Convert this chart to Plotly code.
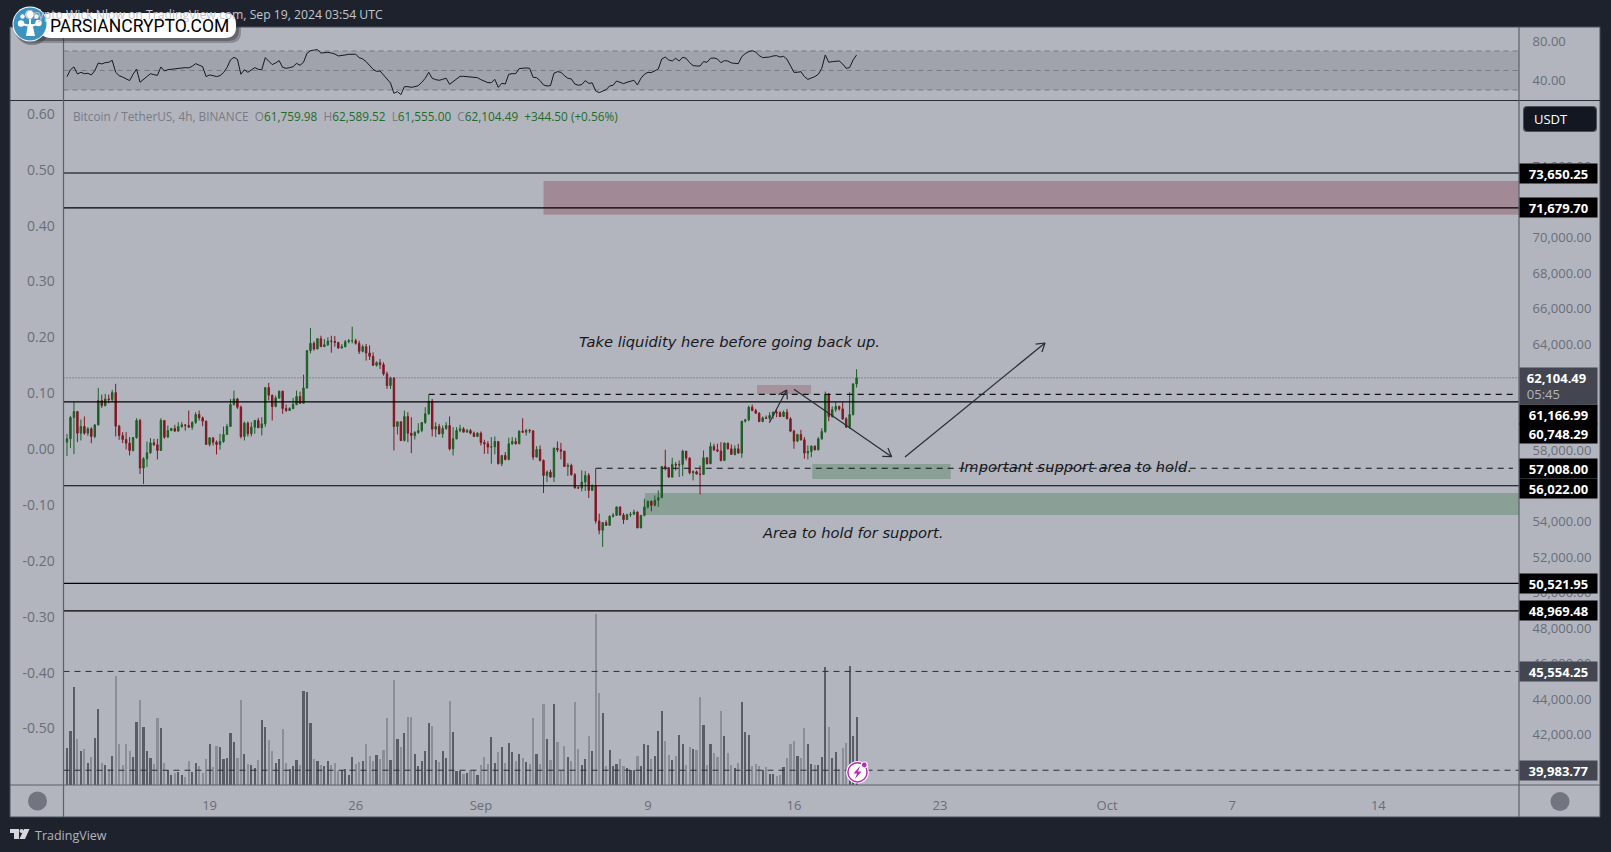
import numpy as np
import pandas as pd
import plotly.graph_objects as go

W, H = 1611, 852

# ---------------- data ----------------
first_open = 58479
closes = [58666,59866,60204,58985,59360,58985,59229,58798,59454,60823,
60541,60916,60879,61273,59379,58854,58629,58423,58010,58741,
59698,57016,57541,57879,58441,58329,58010,59698,58760,59135,
59248,59098,59360,59454,59416,59323,59585,60035,59848,59660,
58348,58723,58479,58348,58516,58910,59360,60598,60916,60448,
58798,59548,58948,59323,59698,59285,59510,61554,61123,60485,
60973,61348,60373,60260,60373,60598,61048,60673,61535,63635,
64048,63729,64310,63860,63973,64179,64160,64104,63785,63860,
64141,64198,64198,64048,63598,63860,63504,63316,62810,62960,
62848,62323,61666,62098,59360,59623,58573,59923,58985,58854,
59023,59135,59585,60073,60785,59210,59360,58948,59248,59416,
58104,58666,59135,59229,59041,59135,58985,58798,58985,58460,
58385,58198,58216,58516,57260,57729,57504,58385,58516,58385,
59098,59041,59135,59116,57635,58066,57448,56604,56791,56510,
58141,58048,57973,57110,57166,56641,55910,55891,56229,56604,
55760,56004,54035,53510,53941,53791,54298,54354,54823,54373,
54110,54391,54410,54541,53641,54354,54823,55141,54916,55198,
55348,57110,57035,56510,57223,57185,57223,57973,57579,56754,
56810,56679,56660,57598,57260,58235,58048,57973,57448,58423,
58104,57785,58104,57860,59660,59735,60448,60260,60110,59641,
59848,59829,59979,60166,60129,59923,60166,59791,59098,58535,
58910,58610,57860,57954,58254,58048,58666,59079,61160,59923,
60316,60485,60354,59791,59323,60035,61759.98,62104.49]
highs = [58948,59960,60729,60204,59754,59923,59323,59323,59454,61535,
61160,61198,61160,61423,61760,59454,59041,59041,58760,58760,
59829,59791,57635,58516,58704,58666,58666,59829,59698,59416,
59285,59454,59604,59604,59454,60260,59660,60166,60260,59923,
59698,58760,58723,58573,58948,59360,59510,60916,61385,60973,
60541,59641,59641,59604,59735,59848,59885,61554,61816,61160,
61104,61385,61385,60598,60448,60973,61385,61329,62285,63673,
64910,64160,64310,64479,64291,64385,64479,64460,64104,64010,
64235,64291,64985,64310,64198,63973,64010,63935,63541,63035,
63166,62979,62454,62173,62135,59641,59641,60260,60166,59885,
59098,59548,59604,60448,61160,60916,59604,59510,59416,59604,
59923,59323,59323,59454,59323,59229,59229,59079,59041,59079,
58610,58535,58760,58798,58516,57729,57916,58723,58760,58723,
59135,59829,59229,59229,59135,58254,58291,57504,56885,56923,
58160,58516,58441,57973,57298,57260,56735,55985,56885,56848,
56735,56098,56979,54448,53979,54073,54354,54485,54860,54860,
54485,54448,54541,54673,54579,54354,55291,55198,55198,55479,
55760,57110,58048,57073,57598,57354,57448,58048,57973,57635,
56885,56885,57166,58010,57635,58460,58385,58385,58479,58460,
58441,58348,58291,58385,59660,59791,60541,60598,60354,60166,
59923,59979,60166,60204,60298,60223,60260,60354,59885,59173,
58948,59173,58760,58291,58291,58291,58760,59266,61329,61254,
60504,60729,60541,60729,59885,61291,61798,62589.52]
lows = [57691,58141,57804,58479,58573,58891,58835,58423,58704,59416,
60410,60485,60673,60729,58798,58610,58423,58066,57729,57954,
58666,56679,56116,57073,57823,58273,57504,58010,58666,58798,
59098,59098,59098,59285,59135,59285,59173,59510,59698,59379,
58348,58235,58291,57785,58048,58441,58910,59360,60541,60354,
58685,58573,58798,58798,58948,59285,58854,59341,60823,59698,
60448,60916,60073,60185,60260,60335,60560,60635,60673,61498,
63485,63635,63748,63860,63860,63898,63522,63860,63729,63748,
63823,64048,64048,63973,63448,63541,63073,63110,62773,62735,
62604,62229,61479,61479,58010,58910,58535,58516,58479,57860,
58629,58948,59041,59510,60035,58798,58760,58910,58723,59173,
58010,57729,58629,59041,59041,59041,58910,58760,58760,58291,
57823,57823,57260,57785,57223,57129,57448,57448,58329,58348,
58385,59004,58854,58985,57485,57635,57391,55610,56229,56473,
56229,57916,57504,57073,56566,56604,55854,55854,55704,55723,
55329,55723,53885,53285,52573,53754,53791,54223,54316,54335,
53866,54110,54260,54410,53641,53641,54298,54729,54579,54860,
54823,55348,56885,56473,56473,56885,56510,56566,57448,56660,
56323,56660,55535,56660,57223,57260,57973,57916,57391,57410,
58066,57785,57729,57841,57598,59585,59660,60223,60073,59604,
59604,59791,59698,59791,59885,59885,59923,59791,59041,58104,
58479,58573,57541,57504,57635,58010,58010,58610,59004,59660,
59848,60185,60260,59735,59285,59229,59979,61555.00]
volumes = [1110,1630,2940,1380,1030,1090,670,850,1420,2290,
670,610,490,880,3280,1240,610,1240,1030,850,
1900,2560,1750,1030,820,640,2020,1720,670,460,
310,370,400,310,250,730,400,670,580,370,
790,1240,550,1180,1150,790,820,1570,1300,820,
2560,940,640,610,520,760,1960,1750,1360,1030,
670,790,1690,670,490,580,760,610,2830,2800,
1870,790,730,610,580,730,610,670,430,460,
490,310,850,640,700,730,1240,880,730,910,
790,1060,2020,760,3160,1390,1150,1570,2050,2050,
940,580,730,1030,1870,1780,760,700,1030,820,
2530,
1600,430,430,340,370,460,460,310,610,850,
640,1450,670,1000,1150,670,1270,1000,730,940,
820,700,640,2020,940,640,2440,1390,760,2440,
1300,430,1180,850,730,2500,1090,610,790,1480,
1030,5140,2770,2170,580,1060,580,640,790,580,
520,460,460,880,580,1240,1210,790,880,1630,
2230,1330,910,760,880,1510,1240,610,1150,1090,
1060,2650,1810,610,1240,970,850,2230,1480,970,
610,520,670,2500,1600,1510,580,640,580,460,
550,340,340,280,310,550,820,1240,1330,880,
820,1720,1240,640,610,610,850,3550,1750,820,
1000,490,1120,1270,3580,1480,2050]
rsi = [43.7,50.8,53.6,46.4,48.1,46.7,47.1,45.4,49.8,57.7,
56.7,58,58.4,60.4,48.1,44.7,43.3,41.6,39.6,46.1,
51.5,37.9,40.6,43.7,46.7,45.7,45,53.6,49.5,50.8,
51.2,51.5,52.2,52.9,52.9,52.6,54.3,57,55.6,53.9,
43.7,45.4,44.7,43.7,44.7,47.8,52.9,60.8,63.5,61.5,
46.1,50.8,48.1,50.2,52.9,51.2,50.8,63.2,59.7,56,
57.7,60.1,53.2,52.2,52.9,53.9,57.3,55.3,58.4,67.6,
70.3,70.7,71.4,67.9,68.3,68.6,67.9,66.9,64.9,65.2,
65.9,66.6,66.9,66.6,63.2,61.8,59.1,55.6,51.2,49.1,
49.5,45.4,41.3,37.2,26.6,28.3,25.2,33.4,33.4,32.7,
33.4,34.4,37.9,42,48.1,42,40.6,39.9,40.9,42,
35.8,38.5,42,44,
44,43.7,43.3,42.6,42.6,40.6,39.2,37.5,37.5,40.9,
32.7,36.8,36.1,46.1,46.7,46.7,51.9,52.6,52.6,52.2,
43,42.6,39.6,35.1,34.1,34.4,47.1,48.8,48.1,44.7,
42,41.3,36.1,34.8,35.5,39.6,36.8,37.2,29,27.3,
29,30.3,34.1,34.8,39.2,38.2,36.5,37.9,39.2,39.9,
35.1,42,46.1,48.1,47.8,49.5,51.5,61.8,63.8,60.8,
59.7,62.5,59.7,63.5,62.5,58,55,54.6,54.6,59.1,
58.4,62.5,62.8,61.8,58,60.1,59.7,57.7,57,57,
64.2,67.3,69.3,70.3,69,65.2,63.2,63.5,63.8,64.9,
65.2,63.8,64.5,61.5,55,48.1,48.1,48.8,43.7,40.9,
42.3,43.7,46.1,52.2,65.9,58.4,59.1,59.7,59.7,56.7,
52.2,52.9,60.8,65.9]
assert len(closes) == len(highs) == len(lows) == len(volumes) == len(rsi), (len(closes), len(highs), len(lows), len(volumes), len(rsi))

tick_dates = ["2024-08-19","2024-08-26","2024-09-01","2024-09-09","2024-09-16","2024-09-23","2024-10-01","2024-10-07","2024-10-14"]
tick_names = ["19","26","Sep","9","16","23","Oct","7","14"]
price_ticks = [42000,44000,46000,48000,50000,52000,54000,56000,58000,60000,62000,64000,66000,68000,70000,72000,74000]
pct_ticks = [0.6,0.5,0.4,0.3,0.2,0.1,0,-0.1,-0.2,-0.3,-0.4,-0.5]
rsi_ticks = [80,40]
rsi_levels = [70,50,30]

solid_levels = [73650.25,71679.70,60748.29,56022.00,50521.95,48969.48]
dashed_black = [(61166.99,104),(57008.00,152)]
dashed_grey = [45554.25,39983.77]
last_price = 62104.49

labels = [("73,650.25",73650.25,0,"black"),("71,679.70",71679.70,0,"black"),
          ("61,166.99",61166.99,-20,"black"),("60,748.29",60748.29,-32,"black"),
          ("57,008.00",57008.00,0,"black"),("56,022.00",56022.00,-3,"black"),
          ("50,521.95",50521.95,0,"black"),("48,969.48",48969.48,0,"black"),
          ("45,554.25",45554.25,0,"#434651"),("39,983.77",39983.77,0,"#434651")]

zones = [("2024-09-04 00:00","2024-10-20 17:45",73199,71299,"rgba(132,50,70,0.33)"),
         ("2024-09-14 05:30","2024-09-16 19:40",61700,61192,"rgba(132,50,70,0.27)"),
         ("2024-09-16 21:00","2024-09-23 12:15",57246,56401,"rgba(40,110,50,0.29)"),
         ("2024-09-08 20:40","2024-10-20 17:45",55612,54372,"rgba(40,110,50,0.29)")]
arrows = [("2024-09-14 19:40",59574,"2024-09-15 15:36",61418),
          ("2024-09-16 00:00",61457,"2024-09-20 16:20",57658),
          ("2024-09-21 07:40",57641,"2024-09-28 00:40",64067)]
notes = [("Take liquidity here before going back up.","2024-09-12 22:00",64180),
         ("Important support area to hold.","2024-09-29 12:30",57133),
         ("Area to hold for support.","2024-09-18 20:00",53413)]

# ---------------- layout constants ----------------
X_START, X_END = pd.Timestamp("2024-08-12 00:00"), pd.Timestamp("2024-10-20 17:45")
PRICE_RANGE = [39152, 77709]
L, R = 63.5, 1519
MAIN_T, MAIN_B = 101, 785
RSI_T, RSI_B = 27, 100
BG = "#b2b5be"; DARK = "#1e222d"; AX = "#5d606b"; TXT = "#6a6d78"
FONT = "Open Sans"

def X(p): return p / W
def Y(p): return 1 - p / H
def dx(t): return L + (pd.Timestamp(t) - X_START) / (X_END - X_START) * (R - L)
def py(v): return MAIN_T + (PRICE_RANGE[1] - v) / (PRICE_RANGE[1] - PRICE_RANGE[0]) * (MAIN_B - MAIN_T)

dates = pd.date_range(end="2024-09-19 00:00", periods=len(closes), freq="4h")
opens = [first_open] + closes[:-1]
vol_colors = ["#5a5c66" if c >= o else "#8b8e98" for o, c in zip(opens, closes)]

fig = go.Figure()
fig.add_trace(go.Bar(x=dates, y=volumes, yaxis="y4", width=4*3600e3*0.62,
                     marker=dict(color=vol_colors, line=dict(width=0)), hoverinfo="skip"))
fig.add_trace(go.Candlestick(x=dates, open=opens, high=highs, low=lows, close=closes, yaxis="y",
                             increasing=dict(line=dict(color="#1c5f24", width=1), fillcolor="#1c5f24"),
                             decreasing=dict(line=dict(color="#801722", width=1), fillcolor="#801722"),
                             whiskerwidth=0, hoverinfo="skip"))
fig.add_trace(go.Scatter(x=dates, y=rsi, yaxis="y3", mode="lines",
                         line=dict(color="#15181f", width=1), hoverinfo="skip"))
fig.add_trace(go.Scatter(x=[dates[0]], y=[0], yaxis="y2", mode="markers", opacity=0, hoverinfo="skip"))

shapes = []
def rect(x0, y0, x1, y1, fill, line=None, lw=0, layer="below"):
    shapes.append(dict(type="rect", xref="paper", yref="paper", x0=X(x0), x1=X(x1), y0=Y(y0), y1=Y(y1),
                       fillcolor=fill, line=dict(color=line or fill, width=lw), layer=layer))
def seg(x0, y0, x1, y1, color, lw=1, dash="solid", layer="above"):
    shapes.append(dict(type="line", xref="paper", yref="paper", x0=X(x0), x1=X(x1), y0=Y(y0), y1=Y(y1),
                       line=dict(color=color, width=lw, dash=dash), layer=layer))
def circ(cx, cy, r, fill, line=None, lw=0, layer="above"):
    shapes.append(dict(type="circle", xref="paper", yref="paper", x0=X(cx-r), x1=X(cx+r), y0=Y(cy-r), y1=Y(cy+r),
                       fillcolor=fill, line=dict(color=line or fill, width=lw), layer=layer))
def poly(pts, fill, layer="above", line=None, lw=0):
    d = "M" + "L".join(f"{X(a):.5f},{Y(b):.5f}" for a, b in pts) + "Z"
    shapes.append(dict(type="path", xref="paper", yref="paper", path=d, fillcolor=fill,
                       line=dict(color=line or fill, width=lw), layer=layer))
def pill(x0, y0, x1, y1, r, fill, layer="above"):
    d = (f"M{X(x0+r):.5f},{Y(y0):.5f}L{X(x1-r):.5f},{Y(y0):.5f}Q{X(x1):.5f},{Y(y0):.5f} {X(x1):.5f},{Y(y0+r):.5f}"
         f"L{X(x1):.5f},{Y(y1-r):.5f}Q{X(x1):.5f},{Y(y1):.5f} {X(x1-r):.5f},{Y(y1):.5f}"
         f"L{X(x0+r):.5f},{Y(y1):.5f}Q{X(x0):.5f},{Y(y1):.5f} {X(x0):.5f},{Y(y1-r):.5f}"
         f"L{X(x0):.5f},{Y(y0+r):.5f}Q{X(x0):.5f},{Y(y0):.5f} {X(x0+r):.5f},{Y(y0):.5f}Z")
    shapes.append(dict(type="path", xref="paper", yref="paper", path=d, fillcolor=fill,
                       line=dict(color=fill, width=0), layer=layer))

# frame and panes
rect(10, 27, 1600, 817, BG, "#4a4e5a", 1)
rect(L, 51, R, 90, "#a0a3ac")
for lv in rsi_levels:
    shapes.append(dict(type="line", xref="paper", yref="y3", x0=X(L), x1=X(R), y0=lv, y1=lv,
                       line=dict(color="#787b86", width=1, dash="5px,4px"), layer="below"))
for x0, x1, p0, p1, col in zones:
    shapes.append(dict(type="rect", xref="x", yref="y", x0=x0, x1=x1, y0=p0, y1=p1, fillcolor=col,
                       line=dict(width=0), layer="below"))
# levels
for lv in solid_levels:
    shapes.append(dict(type="line", xref="paper", yref="y", x0=X(L), x1=X(R), y0=lv, y1=lv,
                       line=dict(color="#000000", width=1.2)))
for lv, idx in dashed_black:
    shapes.append(dict(type="line", xref="x", yref="y", x0=dates[idx], x1=X_END - pd.Timedelta(hours=7), y0=lv, y1=lv,
                       line=dict(color="#111111", width=1.2, dash="6px,5px")))
for lv in dashed_grey:
    shapes.append(dict(type="line", xref="paper", yref="y", x0=X(L), x1=X(R), y0=lv, y1=lv,
                       line=dict(color="#2d2f38", width=1, dash="6px,5px")))
shapes.append(dict(type="line", xref="paper", yref="y", x0=X(L), x1=X(R), y0=last_price, y1=last_price,
                   line=dict(color="#55575f", width=1, dash="1px,2px")))
# pane borders
seg(10, 100.5, 1600, 100.5, "#2a2e39", 1.2, layer="below")
seg(L, 27, L, 817, AX, 1.2)
seg(R, 27, R, 817, AX, 1.2)
seg(10, 785, 1600, 785, AX, 1.2)

# arrows
for t0, p0, t1, p1 in arrows:
    a = np.array([dx(t0), py(p0)]); b = np.array([dx(t1), py(p1)])
    seg(a[0], a[1], b[0], b[1], "#2a2d36", 1.2)
    u = (b - a) / np.linalg.norm(b - a); n = np.array([-u[1], u[0]])
    for s in (1, -1):
        c = b - u * 8 + n * s * 5
        seg(b[0], b[1], c[0], c[1], "#2a2d36", 1.2)

# grey round buttons
circ(37.5, 801, 9.5, "#72747f")
circ(1560, 801.5, 9.5, "#72747f")
# USDT button
pill(1523, 106, 1597, 132, 4, "#4a4e5a")
pill(1524, 107, 1596, 131, 4, "#131722")
# lightning badge
circ(857.5, 772.3, 11.3, "#ffffff")
circ(857.5, 772.3, 9.6, "#ffffff", "#b52fb0", 1.5)
poly([(860,766),(853.5,773.5),(857,773.5),(855,779),(861.5,771.5),(858,771.5)], "#b52fb0")
circ(864.3, 765, 3.6, "#ffffff")
circ(864.3, 765, 2.4, "#b52fb0")

# watermark logo
pill(19, 17, 241, 43, 11, "rgba(45,47,56,0.3)")
pill(17, 15, 239, 41, 11, "rgba(45,47,56,0.4)")
circ(32, 27, 18, "rgba(45,47,56,0.4)")
pill(40, 13, 236, 38, 11, "#ffffff")
circ(30, 24, 17.5, "#ffffff")
circ(30, 24, 16.5, "#3c93c0")
poly([(28,24),(26,36),(35,36),(32.5,24)], "#ffffff")
seg(30, 26, 22, 24, "#ffffff", 2); seg(30, 26, 38, 24, "#ffffff", 2); seg(30, 26, 30, 16, "#ffffff", 2)
circ(29.5, 14.5, 4.3, "#ffffff")
circ(21, 23.5, 3.2, "#ffffff")
circ(38.5, 23, 3.2, "#ffffff")
circ(22.5, 16.5, 2.2, "#ffffff")
circ(36.5, 16.5, 2.2, "#ffffff")

# TradingView footer glyph
poly([(10,829),(19,829),(19,839),(14,839),(14,833),(10,833)], "#d6d8de")
circ(21.5, 831, 2, "#d6d8de")
poly([(24,829),(29.5,829),(25,839),(19.5,839)], "#d6d8de")

ann = []
def text(x, y, s, size=13, color=TXT, anchor="left", family=FONT, **kw):
    ann.append(dict(xref="paper", yref="paper", x=X(x), y=Y(y), text=s, showarrow=False, xanchor=anchor,
                    yanchor="middle", font=dict(size=size, color=color, family=family), **kw))

for s, t, p in notes:
    ann.append(dict(xref="x", yref="y", x=t, y=p, text=f"<i>{s}</i>", showarrow=False,
                    font=dict(size=14.7, color="#17181d", family="DejaVu Sans")))
for s, p, sh, bg in labels:
    ann.append(dict(xref="paper", yref="y", x=X(R), y=p, yshift=sh, text=f"<b>{s}</b>", showarrow=False, xanchor="left",
                    width=77, height=19, bgcolor=bg, borderpad=0,
                    font=dict(size=13, color="#ffffff", family=FONT)))
ann.append(dict(xref="paper", yref="y", x=X(R), y=last_price, yshift=-8, xanchor="left", showarrow=False,
                text="&nbsp;&nbsp;<b>62,104.49</b><br>&nbsp;&nbsp;<span style='color:#b2b5be'>05:45</span>", width=77, height=36,
                align="left", bgcolor="#434651", borderpad=0, font=dict(size=13, color="#ffffff", family=FONT)))

g = "#1f6b2c"; gr = "#787b86"
text(71, 116, f"<span style='color:{gr}'>Bitcoin / TetherUS, 4h, BINANCE  O</span>61,759.98 "
              f"<span style='color:{gr}'> H</span>62,589.52 <span style='color:{gr}'> L</span>61,555.00 "
              f"<span style='color:{gr}'> C</span>62,104.49  +344.50 (+0.56%)", size=11.8, color=g)
text(385, 14, "Crypto Wick Nlow on TradingView.com, Sep 19, 2024 03:54 UTC", size=12.2, color="#c3c6ce", anchor="right")
text(48, 25.5, "PARSIANCRYPTO.COM", size=17.5, color="#000000", family="Roboto")
text(1532, 119, "USDT", size=13, color="#ffffff")
text(33, 835, "TradingView", size=12.5, color="#b2b5be")

tfont = dict(size=13, color=TXT, family=FONT)
lfont = dict(size=14, color=TXT, family=FONT)
fig.update_layout(
    width=W, height=H, margin=dict(l=0, r=0, t=0, b=0), autosize=False,
    paper_bgcolor=DARK, plot_bgcolor="rgba(0,0,0,0)", showlegend=False, dragmode=False,
    boxgap=0.42,
    shapes=shapes, annotations=ann,
    bargap=0,
    xaxis=dict(domain=[X(L), X(R)], range=[X_START, X_END], type="date", anchor="y", rangeslider=dict(visible=False),
               tickmode="array", tickvals=tick_dates, ticktext=tick_names, tickfont=tfont,
               ticks="outside", ticklen=8, tickcolor="rgba(0,0,0,0)", showgrid=False, zeroline=False, showline=False),
    yaxis=dict(domain=[Y(MAIN_B), Y(MAIN_T)], range=PRICE_RANGE, side="right", anchor="x",
               tickmode="array", tickvals=price_ticks, ticktext=[f"{v:,.2f}" for v in price_ticks], tickfont=tfont,
               ticks="outside", ticklen=10, tickcolor="rgba(0,0,0,0)", showgrid=False, zeroline=False, showline=False),
    yaxis2=dict(overlaying="y", side="left", anchor="x", range=[-0.601, 0.623],
                tickmode="array", tickvals=pct_ticks, ticktext=[f"{v:.2f}" for v in pct_ticks], tickfont=lfont,
                ticks="outside", ticklen=5, tickcolor="rgba(0,0,0,0)", showgrid=False, zeroline=False, showline=False),
    yaxis3=dict(domain=[Y(RSI_B), Y(RSI_T)], range=[19.7, 94.6], side="right", anchor="x",
                tickmode="array", tickvals=rsi_ticks, ticktext=[f"{v:.2f}" for v in rsi_ticks], tickfont=tfont,
                ticks="outside", ticklen=10, tickcolor="rgba(0,0,0,0)", showgrid=False, zeroline=False, showline=False),
    yaxis4=dict(overlaying="y", range=[0, 20520], visible=False),
)
fig.write_html("out.html", config=dict(displayModeBar=False, staticPlot=True),
               post_script="document.body.style.margin='0';document.body.style.background='#1e222d';")
